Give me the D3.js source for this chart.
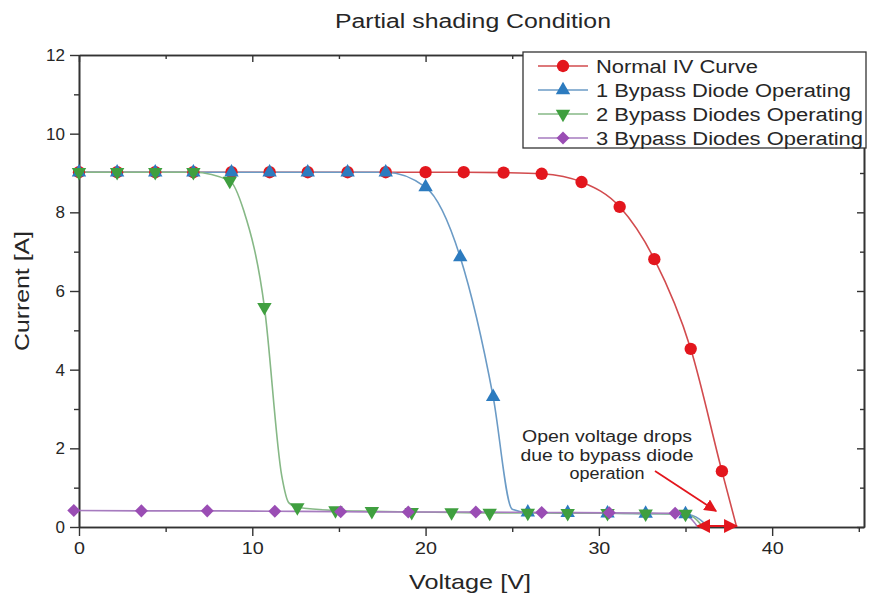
<!DOCTYPE html>
<html>
<head>
<meta charset="utf-8">
<script src="https://cdn.jsdelivr.net/npm/d3@7"></script>
<style>
  body { margin: 0; background: #fff; }
  text { font-family: "Liberation Sans", Arial, sans-serif; fill: #262626; }
</style>
</head>
<body>
<div id="chart"></div>
<script>
// data: [voltage, current, marker shown]
var normalIV = [[0,9.02,1],[2.2,9.02,1],[4.4,9.02,1],[6.6,9.02,1],[8.8,9.02,1],[11.0,9.02,1],[13.2,9.02,1],
  [15.5,9.02,1],[17.7,9.02,1],[20.0,9.02,1],[22.2,9.02,1],[24.5,9.01,1],[26.7,8.98,1],[29.0,8.77,1],
  [31.2,8.14,1],[33.2,6.81,1],[35.3,4.53,1],[37.1,1.42,1],[37.95,0,0]];
var bypass1 = [[0,9.02,1],[2.2,9.02,1],[4.4,9.02,1],[6.6,9.02,1],[8.8,9.02,1],[11.0,9.02,1],[13.2,9.02,1],
  [15.5,9.02,1],[17.7,9.02,1],[20.0,8.64,1],[22.0,6.86,1],[23.9,3.31,1],[25.0,0.45,0],[25.9,0.37,1],
  [28.2,0.36,1],[30.5,0.35,1],[32.7,0.34,1],[35.0,0.33,1],[35.8,0.2,0],[36.3,0,0]];
var bypass2 = [[0,9.02,1],[2.2,9.02,1],[4.4,9.02,1],[6.6,9.02,1],[8.7,8.8,1],[9.5,8.05,0],[10.7,5.59,1],
  [11.7,1.3,0],[12.1,0.62,0],[12.6,0.5,1],[14.8,0.42,1],[16.9,0.40,1],[19.2,0.38,1],[21.5,0.37,1],
  [23.7,0.36,1],[25.9,0.36,1],[28.2,0.35,1],[30.5,0.35,1],[32.7,0.34,1],[35.0,0.33,1],[35.6,0.2,0],[36.0,0,0]];
var bypass3 = [[-0.3,0.42,1],[3.6,0.41,1],[7.4,0.41,1],[11.3,0.40,1],[15.1,0.39,1],[19.0,0.38,1],
  [22.9,0.38,1],[26.7,0.37,1],[30.6,0.36,1],[34.4,0.35,1],[35.2,0.25,0],[35.7,0,0]];

var seriesNames = ["Normal IV Curve", "1 Bypass Diode Operating", "2 Bypass Diodes Operating", "3 Bypass Diodes Operating"];
var xMajor = [0, 10, 20, 30, 40], xMinor = [5, 15, 25, 35, 45];
var yMajor = [0, 2, 4, 6, 8, 10, 12], yMinor = [1, 3, 5, 7, 9, 11];

var width = 871, height = 594;
var svg = d3.select("#chart").append("svg").attr("width", width).attr("height", height);

var x = d3.scaleLinear().domain([0, 45.3]).range([79, 864]);
var y = d3.scaleLinear().domain([0, 12]).range([527, 55]);

// series styles
var series = [
  {data: normalIV, line: "#d24b4e", fill: "#e3161d", sym: d3.symbolCircle, size: 120, rot: 0},
  {data: bypass1, line: "#6b9bc6", fill: "#2c7bbf", sym: d3.symbolTriangle, size: 90, rot: 0},
  {data: bypass2, line: "#86b886", fill: "#3f9f3f", sym: d3.symbolTriangle, size: 90, rot: 180},
  {data: bypass3, line: "#a67bbf", fill: "#9a4db4", sym: d3.symbolSquare, size: 85, rot: 45}
];

// axes
function drawAxis(axis, tx, ty, labels) {
  var g = svg.append("g").attr("transform", "translate(" + tx + "," + ty + ")").call(axis);
  g.select(".domain").attr("stroke", "#333").attr("stroke-width", 1.6);
  g.selectAll(".tick line").attr("stroke", "#333").attr("stroke-width", 1.4);
  if (!labels) g.selectAll(".tick text").remove();
  return g;
}
var gx = drawAxis(d3.axisBottom(x).tickValues(xMajor).tickSize(9).tickSizeOuter(0).tickPadding(6), 0, 527, true);
drawAxis(d3.axisBottom(x).tickValues(xMinor).tickSize(5).tickSizeOuter(0), 0, 527, false);
var gy = drawAxis(d3.axisLeft(y).tickValues(yMajor).tickSize(9).tickSizeOuter(0).tickPadding(5), 79, 0, true);
drawAxis(d3.axisLeft(y).tickValues(yMinor).tickSize(5).tickSizeOuter(0), 79, 0, false);
drawAxis(d3.axisTop(x).tickValues(xMajor).tickSize(-7).tickSizeOuter(0), 0, 55, false);
drawAxis(d3.axisTop(x).tickValues(xMinor).tickSize(-4).tickSizeOuter(0), 0, 55, false);
drawAxis(d3.axisRight(y).tickValues(yMajor).tickSize(-7).tickSizeOuter(0), 864, 0, false);
drawAxis(d3.axisRight(y).tickValues(yMinor).tickSize(-4).tickSizeOuter(0), 864, 0, false);

gx.selectAll(".tick text").attr("font-size", 17).attr("fill", "#333")
  .style("font-family", "'Liberation Sans', Arial, sans-serif")
  .attr("transform", "scale(1.16,1)");
gy.selectAll(".tick text").attr("font-size", 17).attr("fill", "#333")
  .style("font-family", "'Liberation Sans', Arial, sans-serif");

// curves
var line = d3.line().x(function(d) { return x(d[0]); }).y(function(d) { return y(d[1]); })
  .curve(d3.curveMonotoneX);

series.forEach(function(s) {
  svg.append("path").datum(s.data).attr("d", line)
    .attr("fill", "none").attr("stroke", s.line).attr("stroke-width", 1.6);
});
series.forEach(function(s) {
  svg.append("g").selectAll("path").data(s.data.filter(function(d) { return d[2]; }))
    .enter().append("path")
    .attr("d", d3.symbol().type(s.sym).size(s.size))
    .attr("transform", function(d) { return "translate(" + x(d[0]) + "," + y(d[1]) + ") rotate(" + s.rot + ")"; })
    .attr("fill", s.fill);
});

// annotation arrows
var defs = svg.append("defs");
defs.append("marker").attr("id", "ah").attr("viewBox", "0 0 10 10").attr("refX", 9).attr("refY", 5)
  .attr("markerWidth", 7).attr("markerHeight", 7).attr("orient", "auto-start-reverse")
  .append("path").attr("d", "M0,0 L10,5 L0,10 z").attr("fill", "#e3161d");

svg.append("line").attr("x1", 655).attr("y1", 471).attr("x2", 716).attr("y2", 511)
  .attr("stroke", "#e3161d").attr("stroke-width", 1.8).attr("marker-end", "url(#ah)");
svg.append("line").attr("x1", x(35.7)).attr("y1", 526).attr("x2", x(37.95)).attr("y2", 526)
  .attr("stroke", "#e3161d").attr("stroke-width", 2)
  .attr("marker-start", "url(#ah)").attr("marker-end", "url(#ah)");

var notes = [["Open voltage drops", 170], ["due to bypass diode", 173], ["operation", 75]];
notes.forEach(function(n, i) {
  svg.append("text").attr("x", 607).attr("y", 442 + i * 18.5).attr("text-anchor", "middle")
    .attr("font-size", 16).attr("textLength", n[1]).attr("lengthAdjust", "spacingAndGlyphs")
    .text(n[0]);
});

// legend
var leg = svg.append("g");
leg.append("rect").attr("x", 523).attr("y", 52).attr("width", 343).attr("height", 96)
  .attr("fill", "#fff").attr("stroke", "#333").attr("stroke-width", 1.3);
var legW = [162, 255, 267, 267];
series.forEach(function(s, i) {
  var ly = 66 + i * 24;
  leg.append("line").attr("x1", 538).attr("x2", 588).attr("y1", ly).attr("y2", ly)
    .attr("stroke", s.line).attr("stroke-width", 1.6);
  leg.append("path").attr("d", d3.symbol().type(s.sym).size(s.size))
    .attr("transform", "translate(563," + ly + ") rotate(" + s.rot + ")").attr("fill", s.fill);
  leg.append("text").attr("x", 596).attr("y", ly + 6.5).attr("font-size", 18)
    .attr("textLength", legW[i]).attr("lengthAdjust", "spacingAndGlyphs").text(seriesNames[i]);
});

// titles
svg.append("text").attr("x", 473).attr("y", 28).attr("text-anchor", "middle").attr("font-size", 20)
  .attr("textLength", 276).attr("lengthAdjust", "spacingAndGlyphs").text("Partial shading Condition");
svg.append("text").attr("x", 470).attr("y", 589).attr("text-anchor", "middle").attr("font-size", 21)
  .attr("textLength", 122).attr("lengthAdjust", "spacingAndGlyphs").text("Voltage [V]");
svg.append("text").attr("transform", "translate(29,291) rotate(-90)").attr("text-anchor", "middle")
  .attr("font-size", 21).attr("textLength", 120).attr("lengthAdjust", "spacingAndGlyphs")
  .text("Current [A]");
</script>
</body>
</html>
